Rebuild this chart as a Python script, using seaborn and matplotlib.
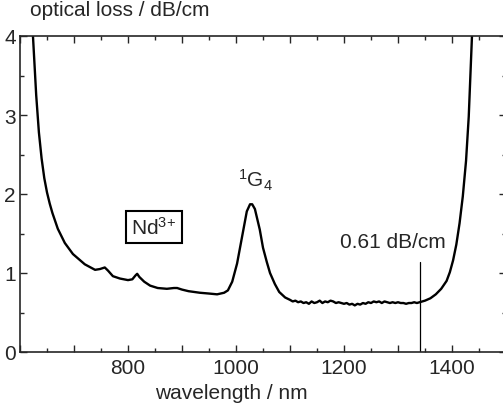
import matplotlib
matplotlib.use('Agg')
import matplotlib.pyplot as plt
import seaborn as sns
from matplotlib.ticker import MultipleLocator, FuncFormatter

# wavelength (nm) and optical loss (dB/cm)
wavelength = [610, 624, 630, 635, 640, 645, 650, 655, 660, 670, 683, 698, 720, 739, 748, 757, 763,
              772, 785, 800, 808, 814, 817, 821, 830, 841, 855, 872, 885, 891, 900, 912,
              933, 950, 965, 978, 985, 993, 1002, 1011, 1020, 1026, 1030, 1035, 1044, 1050,
              1057, 1063, 1072, 1080, 1091, 1100, 1105, 1110, 1115, 1120, 1125, 1130, 1135,
              1140, 1145, 1150, 1155, 1160, 1165, 1170, 1175, 1180, 1185, 1190, 1195, 1200,
              1205, 1210, 1215, 1220, 1225, 1230, 1235, 1240, 1245, 1250, 1255, 1260, 1265,
              1270, 1275, 1280, 1285, 1290, 1295, 1300, 1305, 1310, 1315, 1320, 1325, 1330,
              1335, 1340, 1350, 1360, 1370, 1380, 1390, 1396, 1402, 1408, 1414, 1420, 1426,
              1431, 1437, 1445]
loss = [5.0, 4.00, 3.25, 2.78, 2.45, 2.20, 2.02, 1.88, 1.76, 1.56, 1.38, 1.24, 1.11, 1.04, 1.05, 1.07, 1.03,
        0.96, 0.93, 0.91, 0.92, 0.97, 0.99, 0.95, 0.89, 0.84, 0.81, 0.80, 0.81, 0.81, 0.79, 0.77,
        0.75, 0.74, 0.73, 0.75, 0.78, 0.89, 1.12, 1.45, 1.78, 1.87, 1.87, 1.81, 1.55, 1.32,
        1.14, 1.00, 0.86, 0.76, 0.69, 0.66, 0.64, 0.65, 0.63, 0.64, 0.62, 0.63, 0.61,
        0.64, 0.62, 0.63, 0.65, 0.62, 0.64, 0.63, 0.65, 0.64, 0.62, 0.63, 0.62, 0.61,
        0.62, 0.60, 0.61, 0.59, 0.61, 0.60, 0.62, 0.61, 0.63, 0.62, 0.64, 0.63, 0.64,
        0.62, 0.64, 0.63, 0.62, 0.63, 0.62, 0.63, 0.62, 0.62, 0.61, 0.62, 0.62, 0.63,
        0.62, 0.63, 0.65, 0.68, 0.73, 0.80, 0.90, 1.01, 1.16, 1.36, 1.63, 1.97, 2.42,
        2.98, 4.0, 5.0]

marker_wl = 1340
marker_top = 1.14

sns.set_style("ticks")
plt.rcParams['font.family'] = ['Liberation Sans', 'DejaVu Sans']
plt.rcParams['mathtext.fontset'] = 'custom'
plt.rcParams['mathtext.rm'] = 'Liberation Sans'
plt.rcParams['mathtext.it'] = 'Liberation Sans'

fig = plt.figure(figsize=(5.03, 4.10), dpi=100)
ax = fig.add_axes([20 / 503, 57 / 410, 486 / 503, 316 / 410])

sns.lineplot(x=wavelength, y=loss, color='black', lw=1.7, ax=ax)
ax.plot([marker_wl, marker_wl], [0, marker_top], color='black', lw=0.9)

ax.set_xlim(600, 1500)
ax.set_ylim(0, 4)
ax.xaxis.set_major_locator(MultipleLocator(100))
ax.xaxis.set_minor_locator(MultipleLocator(50))
ax.xaxis.set_major_formatter(FuncFormatter(lambda v, p: f"{v:.0f}" if v % 200 == 0 and v > 600 else ""))
ax.yaxis.set_major_locator(MultipleLocator(1))
ax.yaxis.set_minor_locator(MultipleLocator(0.5))
ax.tick_params(which='both', direction='in', top=True, right=True, labelsize=15, width=1)
ax.tick_params(which='major', length=5, pad=4)
ax.tick_params(which='minor', length=3)
ax.tick_params(axis='y', pad=3)
for s in ax.spines.values():
    s.set_linewidth(1.2)
ax.set_xlabel('')
ax.set_ylabel('')

fig.text(30 / 503, 1 - 11 / 410, 'optical loss / dB/cm', fontsize=15, ha='left', va='center')
fig.text(231 / 503, 1 - 394 / 410, 'wavelength / nm', fontsize=15, ha='center', va='center')

ax.text(848, 1.58, 'Nd$^{3{+}}$', fontsize=15, ha='center', va='center',
        bbox=dict(boxstyle='square,pad=0.25', fc='white', ec='black', lw=1.5))
ax.text(1037, 2.19, r'$^{1}$G$_{4}$', fontsize=15, ha='center', va='center')
ax.text(1291, 1.40, '0.61 dB/cm', fontsize=15, ha='center', va='center')

fig.savefig('out.png', dpi=100)
